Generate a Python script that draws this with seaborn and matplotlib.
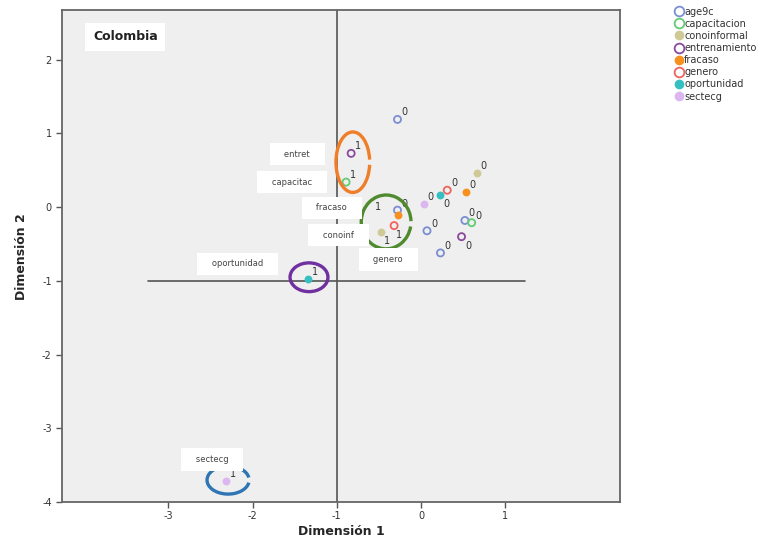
import matplotlib
matplotlib.use("Agg")
import matplotlib.pyplot as plt
import numpy as np
import pandas as pd
import seaborn as sns
from matplotlib.patches import Arc
from matplotlib.lines import Line2D

# ---------------- data ----------------
variables = ["age9c", "age9c", "age9c", "age9c", "age9c",
             "capacitacion", "capacitacion",
             "conoinformal", "conoinformal",
             "entrenamiento", "entrenamiento",
             "fracaso", "fracaso",
             "genero", "genero",
             "oportunidad", "oportunidad",
             "sectecg", "sectecg"]
categories = ["0", "0", "0", "0", "0",
              "1", "0",
              "0", "1",
              "1", "0",
              "0", "1",
              "0", "1",
              "0", "1",
              "0", "1"]
dim1 = [-0.28, -0.28, 0.52, 0.07, 0.23,
        -0.89, 0.60,
        0.66, -0.47,
        -0.83, 0.48,
        0.53, -0.27,
        0.31, -0.32,
        0.23, -1.34,
        0.03, -2.31]
dim2 = [1.19, -0.04, -0.18, -0.32, -0.62,
        0.34, -0.21,
        0.47, -0.34,
        0.73, -0.40,
        0.20, -0.10,
        0.23, -0.25,
        0.16, -0.97,
        0.04, -3.71]

legend_order = ["age9c", "capacitacion", "conoinformal", "entrenamiento",
                "fracaso", "genero", "oportunidad", "sectecg"]

box_labels = ["entret", "capacitac", "fracaso", "conoinf", "genero",
              "oportunidad", "sectecg"]

x_ticks = [-3, -2, -1, 0, 1]
y_ticks = [-4, -3, -2, -1, 0, 1, 2]

# ---------------- style ----------------
colors = {"age9c": "#7b8ed2", "capacitacion": "#62cc74", "conoinformal": "#cfc995",
          "entrenamiento": "#8a4a9c", "fracaso": "#f7901e", "genero": "#f0625e",
          "oportunidad": "#35bfc0", "sectecg": "#dbb6f0"}
filled = {"age9c": False, "capacitacion": False, "conoinformal": True,
          "entrenamiento": False, "fracaso": True, "genero": False,
          "oportunidad": True, "sectecg": True}

# label offsets in pixels (dx, dy down-positive), default upper-right
default_off = (7, -7)
special_off = {1: (7, -6), 15: (6, 9), 10: (7, 9), 12: (-20, -8),
               14: (5, 9), 8: (6, 9)}

box_pos = {"entret": (-1.47, 0.72), "capacitac": (-1.53, 0.34),
           "fracaso": (-1.06, -0.01), "conoinf": (-0.98, -0.38),
           "genero": (-0.39, -0.71), "oportunidad": (-2.18, -0.77),
           "sectecg": (-2.48, -3.42)}

df = pd.DataFrame({"variable": variables, "categoria": categories,
                   "dim1": dim1, "dim2": dim2})

sns.set_style("white")
plt.rcParams["font.family"] = ["DejaVu Sans"]

fig = plt.figure(figsize=(7.57, 5.40), dpi=100)
ax = fig.add_axes([0.082, 0.070, 0.737, 0.911])
ax.set_facecolor("#efefef")

ax.set_xlim(-4.26, 2.36)
ax.set_ylim(-4.0, 2.67)

# reference lines
ax.axvline(-1, color="#555555", lw=1.2, zorder=1)
ax.plot([-3.24, 1.23], [-1, -1], color="#555555", lw=1.2, zorder=1)

for var in legend_order:
    sub = df[df["variable"] == var]
    c = colors[var]
    if filled[var]:
        sns.scatterplot(data=sub, x="dim1", y="dim2", ax=ax, color=c,
                        s=32, linewidth=0, legend=False, zorder=3)
    else:
        sns.scatterplot(data=sub, x="dim1", y="dim2", ax=ax,
                        facecolor="none", edgecolor=c, s=26, linewidth=1.3,
                        legend=False, zorder=3)

for i, row in df.iterrows():
    dx, dy = special_off.get(i, default_off)
    ax.annotate(row["categoria"], (row["dim1"], row["dim2"]),
                xytext=(dx * 0.72, -dy * 0.72), textcoords="offset points",
                ha="center", va="center", fontsize=7, color="#333333", zorder=4)

# highlight ellipses (annotations)
arcs = [((-0.81, 0.61), 0.40, 0.82, "#f07d28", 10, 350),
        ((-0.415, -0.20), 0.59, 0.73, "#4f8a2e", 2, 348),
        ((-1.33, -0.95), 0.45, 0.39, "#7030a0", 0, 360),
        ((-2.29, -3.70), 0.50, 0.38, "#2e75b6", 8, 352)]
for (cx, cy), w, h, col, t1, t2 in arcs:
    ax.add_patch(Arc((cx, cy), w, h, theta1=t1, theta2=t2, color=col,
                     lw=2.4, zorder=5))

# label boxes
for lab in box_labels:
    x, y = box_pos[lab]
    ax.text(x, y, "   " + lab + "   ", ha="center", va="center", fontsize=6,
            color="#444444", zorder=6,
            bbox=dict(boxstyle="square,pad=0.8", fc="white", ec="none"))

ax.text(-3.51, 2.31, "Colombia", ha="center", va="center", fontsize=9,
        fontweight="bold", color="#222222", zorder=6,
        bbox=dict(boxstyle="square,pad=0.6", fc="white", ec="none"))

ax.set_xticks(x_ticks)
ax.set_yticks(y_ticks)
ax.set_xticklabels([str(t) for t in x_ticks])
ax.set_yticklabels([str(t) for t in y_ticks])
ax.tick_params(axis="both", direction="out", length=4, width=1, color="#555555",
               labelsize=7, labelcolor="#333333", bottom=True, left=True)
ax.tick_params(axis="x", pad=2)
for s in ax.spines.values():
    s.set_color("#666666")
    s.set_linewidth(1.3)

ax.set_xlabel("Dimensión 1", fontsize=9, fontweight="bold", labelpad=3)
ax.set_ylabel("Dimensión 2", fontsize=9, fontweight="bold", labelpad=10)

handles = []
for var in legend_order:
    c = colors[var]
    handles.append(Line2D([], [], marker="o", linestyle="none", markersize=7,
                          markerfacecolor=c if filled[var] else "none",
                          markeredgecolor=c, markeredgewidth=1.3 if not filled[var] else 0))
fig.legend(handles, legend_order, loc="upper left", bbox_to_anchor=(0.885, 0.995),
           frameon=False, fontsize=7, handletextpad=0.05, handlelength=1.0,
           labelspacing=0.22, borderaxespad=0, labelcolor="#333333")

fig.savefig("out.png", dpi=100, facecolor="white")
